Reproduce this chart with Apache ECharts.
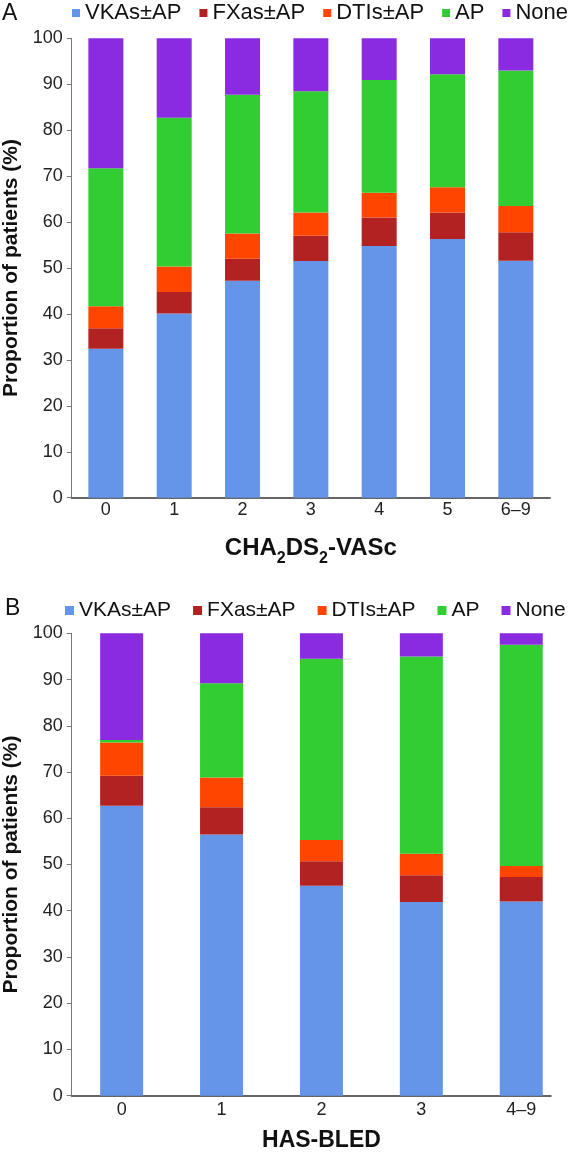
<!DOCTYPE html>
<html>
<head>
<meta charset="utf-8">
<script src="https://cdn.jsdelivr.net/npm/echarts@6/dist/echarts.min.js"></script>
<style>html,body{margin:0;padding:0;background:#fff}#c{width:576px;height:1153px}</style>
</head>
<body>
<div id="c"></div>
<script>
const seriesNames = ['VKAs±AP', 'FXas±AP', 'DTIs±AP', 'AP', 'None'];
const colors = ['#6495E8', '#B22222', '#FF4500', '#32CD32', '#8A2BE2'];

// Panel A: CHA2DS2-VASc
const catA = ['0', '1', '2', '3', '4', '5', '6–9'];
const vkaA  = [32.4, 40.1, 47.2, 51.5, 54.8, 56.3, 51.6];
const fxaA  = [4.5, 4.7, 4.8, 5.5, 6.2, 5.8, 6.2];
const dtiA  = [4.8, 5.5, 5.5, 5.1, 5.4, 5.5, 5.7];
const apA   = [30.0, 32.4, 30.2, 26.4, 24.5, 24.6, 29.5];
const noneA = [28.3, 17.3, 12.3, 11.5, 9.1, 7.8, 7.0];

// Panel B: HAS-BLED
const catB = ['0', '1', '2', '3', '4–9'];
const vkaB  = [62.7, 56.5, 45.4, 41.9, 42.0];
const fxaB  = [6.5, 5.9, 5.3, 5.8, 5.3];
const dtiB  = [7.2, 6.4, 4.6, 4.6, 2.4];
const apB   = [0.5, 20.4, 39.2, 42.7, 47.8];
const noneB = [23.1, 10.8, 5.5, 5.0, 2.5];

const dataA = [vkaA, fxaA, dtiA, apA, noneA];
const dataB = [vkaB, fxaB, dtiB, apB, noneB];

const FONT = 'Liberation Sans, Arial, Helvetica, sans-serif';

function yAxisCfg(gi) {
  return {
    type: 'value', gridIndex: gi, min: 0, max: 100, interval: 10,
    axisLine: {show: true, lineStyle: {color: '#777', width: 1}},
    axisTick: {show: true, length: 5, lineStyle: {color: '#777'}},
    splitLine: {show: false},
    axisLabel: {fontSize: 18, color: '#222', margin: 9, fontFamily: FONT},
    name: 'Proportion of patients (%)', nameLocation: 'middle', nameGap: 50,
    nameTextStyle: {fontSize: 21, fontWeight: 'bold', color: '#111', fontFamily: FONT}
  };
}

const series = [];
seriesNames.forEach((n, i) => {
  series.push({
    name: n, type: 'bar', stack: 'A', xAxisIndex: 0, yAxisIndex: 0,
    barWidth: 35, data: dataA[i], itemStyle: {color: colors[i]}
  });
});
seriesNames.forEach((n, i) => {
  series.push({
    name: n, type: 'bar', stack: 'B', xAxisIndex: 1, yAxisIndex: 1,
    barWidth: 43, data: dataB[i], itemStyle: {color: colors[i]}
  });
});

const option = {
  animation: false,
  textStyle: {fontFamily: FONT},
  title: [
    {text: 'A', left: 2, top: 2, padding: 0, textStyle: {fontSize: 23, fontWeight: 'normal', color: '#111', fontFamily: FONT}},
    {text: 'B', left: 5, top: 597, padding: 0, textStyle: {fontSize: 23, fontWeight: 'normal', color: '#111', fontFamily: FONT}}
  ],
  legend: [
    {
      data: seriesNames, left: 67, top: -3, icon: 'rect', itemWidth: 8, itemHeight: 8, itemGap: 18,
      textStyle: {fontSize: 22, color: '#111', fontFamily: FONT}
    },
    {
      data: seriesNames, left: 60, top: 595, icon: 'rect', itemWidth: 9, itemHeight: 9, itemGap: 22,
      textStyle: {fontSize: 21, color: '#111', fontFamily: FONT}
    }
  ],
  grid: [
    {left: 71.7, top: 38.3, width: 478.3, height: 459.4, outerBoundsMode: 'none', containLabel: false},
    {left: 71.7, top: 633.3, width: 499.5, height: 462.4, outerBoundsMode: 'none', containLabel: false},
    {left: 71.7, top: 633.3, width: 479, height: 462.4, outerBoundsMode: 'none', containLabel: false}
  ],
  xAxis: [
    {
      type: 'category', gridIndex: 0, data: catA,
      axisLine: {show: true, lineStyle: {color: '#666', width: 2}},
      axisTick: {show: false},
      axisLabel: {fontSize: 18, color: '#222', margin: 3, fontFamily: FONT},
      name: '{b|CHA}{s|2}{b|DS}{s|2}{b|-VASc}', nameLocation: 'middle', nameGap: 37,
      nameTextStyle: {
        rich: {
          b: {fontSize: 24, fontWeight: 'bold', color: '#111', fontFamily: FONT, lineHeight: 26, verticalAlign: 'bottom'},
          s: {fontSize: 16, fontWeight: 'bold', color: '#111', fontFamily: FONT, lineHeight: 26, verticalAlign: 'bottom', padding: [0, 0, -6, 0]}
        }
      }
    },
    {
      type: 'category', gridIndex: 1, data: catB,
      axisLine: {show: false},
      axisTick: {show: false},
      axisLabel: {fontSize: 18, color: '#222', margin: 5, fontFamily: FONT},
      name: 'HAS-BLED', nameLocation: 'middle', nameGap: 33,
      nameTextStyle: {fontSize: 23, fontWeight: 'bold', color: '#111', fontFamily: FONT}
    },
    {
      type: 'category', gridIndex: 2, data: catB,
      axisLine: {show: true, lineStyle: {color: '#666', width: 2}},
      axisTick: {show: false}, axisLabel: {show: false}
    }
  ],
  yAxis: [
    yAxisCfg(0),
    yAxisCfg(1),
    {type: 'value', gridIndex: 2, min: 0, max: 100, show: false}
  ],
  series: series
};

const chart = echarts.init(document.getElementById('c'), null, {renderer: 'canvas'});
chart.setOption(option);
</script>
</body>
</html>
